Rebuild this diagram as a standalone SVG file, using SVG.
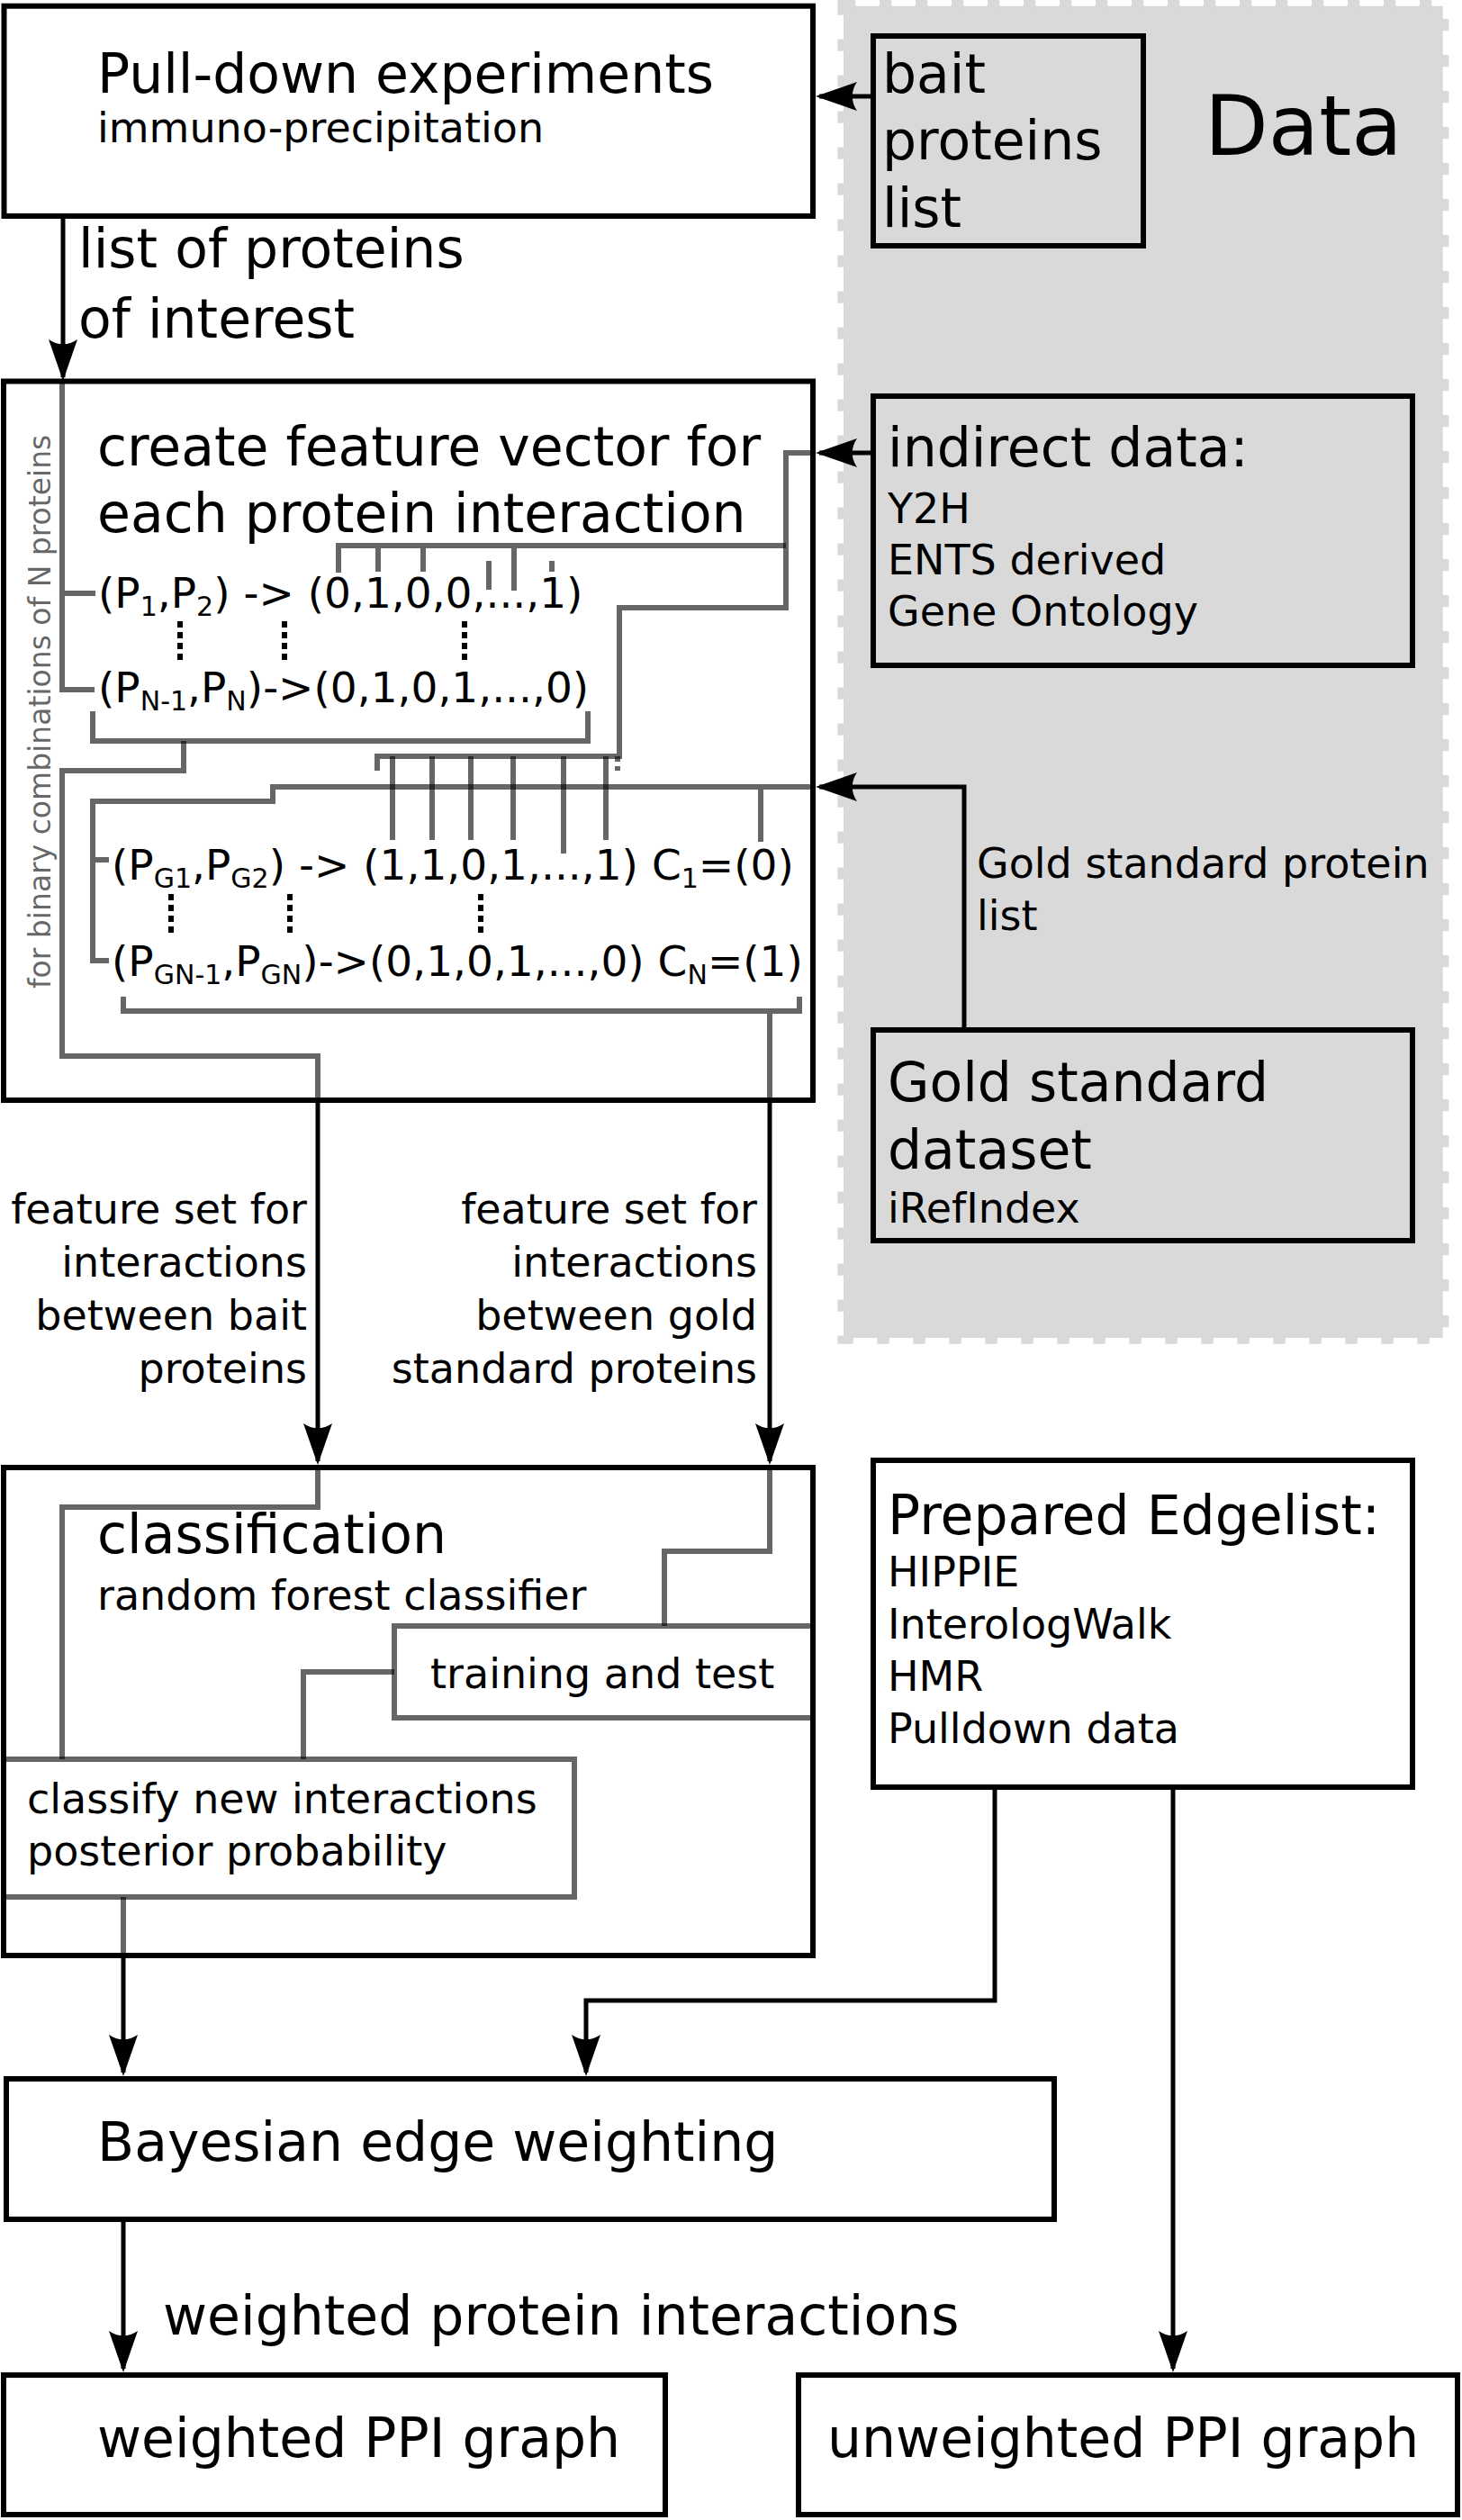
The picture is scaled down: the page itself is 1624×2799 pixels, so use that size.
<svg xmlns="http://www.w3.org/2000/svg" width="1624" height="2799" viewBox="0 0 1624 2799">
<style>
.box{fill:none;stroke:#000;stroke-width:6}
.g{fill:none;stroke:#000;stroke-opacity:0.6;stroke-width:6}
.a{fill:none;stroke:#000;stroke-width:5;marker-end:url(#ah)}
.dots{fill:none;stroke:#000;stroke-width:6;stroke-dasharray:7 5}
text{font-family:"DejaVu Sans","Liberation Sans",sans-serif;fill:#000}
.L{font-size:60px}
.M{font-size:46px}
.R{font-size:47px}
.sb{font-size:30px}
.end{text-anchor:end}
</style>
<defs>
<marker id="ah" markerUnits="userSpaceOnUse" orient="auto" markerWidth="60" markerHeight="40" viewBox="-50 -20 60 40" refX="0" refY="0" overflow="visible">
<path d="M4,0 L-42,-16 C-35,-6 -35,6 -42,16 Z" fill="#000"/>
</marker>
</defs>
<rect x="0" y="0" width="1624" height="2799" fill="#fff"/>

<g id="data-group">
<rect x="937" y="6.7" width="665.7" height="1479.3" fill="#d9d9d9" stroke="#d9d9d9" stroke-width="13.3" stroke-dasharray="13.3 26.7"/>
<text x="1338" y="172" style="font-size:92px">Data</text>
</g>

<g id="pulldown">
<rect class="box" x="4.5" y="6.7" width="898.5" height="233.3"/>
<text class="L" x="108" y="103">Pull-down experiments</text>
<text class="M" x="108" y="158">immuno-precipitation</text>
</g>

<g id="bait">
<rect class="box" x="970" y="40" width="300" height="233"/>
<text class="L" x="980" y="103">bait</text>
<text class="L" x="980" y="177">proteins</text>
<text class="L" x="980" y="252">list</text>
</g>

<g id="indirect">
<rect class="box" x="970" y="440" width="599" height="299"/>
<text class="L" x="986" y="518">indirect data:</text>
<text class="M" x="986" y="581">Y2H</text>
<text class="M" x="986" y="638">ENTS derived</text>
<text class="M" x="986" y="695">Gene Ontology</text>
</g>

<g id="gold">
<rect class="box" x="970" y="1144" width="599" height="234"/>
<text class="L" x="986" y="1223">Gold standard</text>
<text class="L" x="986" y="1298">dataset</text>
<text class="M" x="986" y="1358">iRefIndex</text>
</g>

<g id="feature">
<rect class="box" x="4" y="423.5" width="899" height="798.5"/>
<text x="0" y="0" transform="translate(56,1098) rotate(-90)" style="font-size:33px;fill:#000;fill-opacity:0.6">for binary combinations of N proteins</text>
<text class="L" x="108" y="517">create feature vector for</text>
<text class="L" x="108" y="591">each protein interaction</text>
<text class="R" x="109" y="675">(P<tspan class="sb" dy="9">1</tspan><tspan dy="-9">,P</tspan><tspan class="sb" dy="9">2</tspan><tspan dy="-9">) -&gt; (0,1,0,0,...,1)</tspan></text>
<text class="R" x="109" y="780">(P<tspan class="sb" dy="9">N-1</tspan><tspan dy="-9">,P</tspan><tspan class="sb" dy="9">N</tspan><tspan dy="-9">)-&gt;(0,1,0,1,...,0)</tspan></text>
<text class="R" x="124" y="977">(P<tspan class="sb" dy="9">G1</tspan><tspan dy="-9">,P</tspan><tspan class="sb" dy="9">G2</tspan><tspan dy="-9">) -&gt; (1,1,0,1,...,1) C</tspan><tspan class="sb" dy="9">1</tspan><tspan dy="-9">=(0)</tspan></text>
<text class="R" x="124" y="1084">(P<tspan class="sb" dy="9">GN-1</tspan><tspan dy="-9">,P</tspan><tspan class="sb" dy="9">GN</tspan><tspan dy="-9">)-&gt;(0,1,0,1,...,0) C</tspan><tspan class="sb" dy="9">N</tspan><tspan dy="-9">=(1)</tspan></text>
<path class="dots" d="M200,690V734M316,690V734M516,690V734M190,993V1040M322,993V1040M534,993V1040"/>
<path class="g" d="M69,426V766H105M69,659H106"/>
<path class="g" d="M903,503H873V675H688V840H419V856"/>
<path class="g" d="M873,606H376V636M420,606V635M470,606V635M571,606V656M543,623V655M613,623V635"/>
<path class="g" d="M686,840V856" stroke-dasharray="6 5"/>
<path class="g" d="M436,840V933M480,840V933M523,840V933M570,840V933M626,840V948M673,840V933"/>
<path class="g" d="M103,790V823H653V790"/>
<path class="g" d="M204,823V856H69V1173H353V1222"/>
<path class="g" d="M903,874H303V890H103V1067H121M103,955H121M845,874V935"/>
<path class="g" d="M137,1107V1123H888V1107M855,1123V1222"/>
</g>

<g id="labels">
<text class="L" x="87" y="297">list of proteins</text>
<text class="L" x="87" y="375">of interest</text>
<text class="M" x="1085" y="975">Gold standard protein</text>
<text class="M" x="1085" y="1033">list</text>
<text class="M end" x="341" y="1359">feature set for</text>
<text class="M end" x="341" y="1418">interactions</text>
<text class="M end" x="341" y="1477">between bait</text>
<text class="M end" x="341" y="1536">proteins</text>
<text class="M end" x="841" y="1359">feature set for</text>
<text class="M end" x="841" y="1418">interactions</text>
<text class="M end" x="841" y="1477">between gold</text>
<text class="M end" x="841" y="1536">standard proteins</text>
<text class="L" x="181" y="2593">weighted protein interactions</text>
</g>

<g id="classification">
<path class="g" d="M353,1630V1674H69V1954"/>
<path class="g" d="M855,1630V1723H738V1806"/>
<path class="g" d="M438,1857H337V1954"/>
<path class="g" d="M137,2107V2172"/>
<rect class="box" x="4" y="1630" width="899" height="542"/>
<text class="L" x="108" y="1725">classification</text>
<text class="M" x="108" y="1788">random forest classifier</text>
</g>

<g id="training">
<rect class="g" x="438" y="1806" width="465" height="102"/>
<text class="M" x="478" y="1875">training and test</text>
</g>

<g id="classify">
<rect class="g" x="4" y="1954" width="634" height="153"/>
<text class="M" x="30" y="2014">classify new interactions</text>
<text class="M" x="30" y="2072">posterior probability</text>
</g>

<g id="edgelist">
<rect class="box" x="970" y="1622" width="599" height="363"/>
<text class="L" x="986" y="1704">Prepared Edgelist:</text>
<text class="M" x="986" y="1762">HIPPIE</text>
<text class="M" x="986" y="1820">InterologWalk</text>
<text class="M" x="986" y="1878">HMR</text>
<text class="M" x="986" y="1936">Pulldown data</text>
</g>

<g id="bayesian">
<rect class="box" x="7" y="2309" width="1164" height="156"/>
<text class="L" x="108" y="2400">Bayesian edge weighting</text>
</g>

<g id="weighted">
<rect class="box" x="4" y="2638" width="735" height="155"/>
<text class="L" x="108" y="2729">weighted PPI graph</text>
</g>

<g id="unweighted">
<rect class="box" x="887" y="2638" width="732" height="155"/>
<text class="L" x="919" y="2729">unweighted PPI graph</text>
</g>

<g id="connectors">
<path class="a" d="M70,240V419"/>
<path class="a" d="M967,107H910"/>
<path class="a" d="M967,503H910"/>
<path class="a" d="M1071,1141V874H910"/>
<path class="a" d="M353,1225V1623"/>
<path class="a" d="M855,1225V1623"/>
<path class="a" d="M137,2175V2302"/>
<path class="a" d="M1105,1988V2222H651V2302"/>
<path class="a" d="M1303,1988V2631"/>
<path class="a" d="M137,2468V2631"/>
</g>
</svg>
